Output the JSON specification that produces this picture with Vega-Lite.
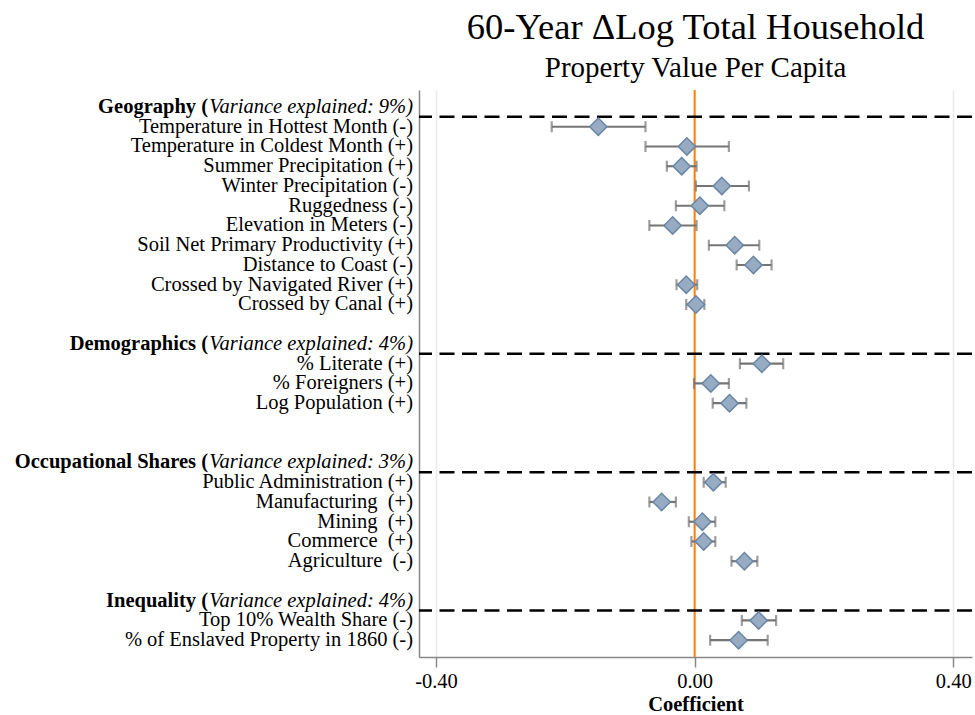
{
  "$schema": "https://vega.github.io/schema/vega-lite/v6.json",
  "width": 553,
  "height": 567,
  "autosize": {"type": "none"},
  "padding": {"left": 419, "top": 90, "right": 3, "bottom": 58},
  "config": {"font": "Liberation Serif", "view": {"stroke": null}},
  "title": {
    "text": "60-Year \u0394Log Total Household",
    "subtitle": "Property Value Per Capita",
    "font": "Liberation Serif",
    "fontSize": 36.5,
    "fontWeight": "normal",
    "color": "black",
    "subtitleFont": "Liberation Serif",
    "subtitleFontSize": 29,
    "subtitleColor": "black",
    "anchor": "middle",
    "offset": 6,
    "subtitlePadding": 8
  },
  "datasets": {
    "rows": [
      {"label": "Temperature in Hottest Month (-)", "pos": 0, "coef": -0.149, "lo": -0.221, "hi": -0.076},
      {"label": "Temperature in Coldest Month (+)", "pos": 1, "coef": -0.012, "lo": -0.076, "hi": 0.053},
      {"label": "Summer Precipitation (+)", "pos": 2, "coef": -0.020, "lo": -0.043, "hi": 0.003},
      {"label": "Winter Precipitation (-)", "pos": 3, "coef": 0.042, "lo": 0.002, "hi": 0.084},
      {"label": "Ruggedness (-)", "pos": 4, "coef": 0.008, "lo": -0.029, "hi": 0.046},
      {"label": "Elevation in Meters (-)", "pos": 5, "coef": -0.034, "lo": -0.070, "hi": 0.003},
      {"label": "Soil Net Primary Productivity (+)", "pos": 6, "coef": 0.062, "lo": 0.022, "hi": 0.100},
      {"label": "Distance to Coast (-)", "pos": 7, "coef": 0.091, "lo": 0.065, "hi": 0.119},
      {"label": "Crossed by Navigated River (+)", "pos": 8, "coef": -0.013, "lo": -0.028, "hi": 0.004},
      {"label": "Crossed by Canal (+)", "pos": 9, "coef": 0.002, "lo": -0.013, "hi": 0.015},
      {"label": "% Literate (+)", "pos": 12, "coef": 0.104, "lo": 0.070, "hi": 0.137},
      {"label": "% Foreigners (+)", "pos": 13, "coef": 0.025, "lo": -0.001, "hi": 0.053},
      {"label": "Log Population (+)", "pos": 14, "coef": 0.054, "lo": 0.028, "hi": 0.080},
      {"label": "Public Administration (+)", "pos": 18, "coef": 0.029, "lo": 0.014, "hi": 0.048},
      {"label": "Manufacturing\u00a0 (+)", "pos": 19, "coef": -0.051, "lo": -0.070, "hi": -0.029},
      {"label": "Mining\u00a0 (+)", "pos": 20, "coef": 0.012, "lo": -0.009, "hi": 0.032},
      {"label": "Commerce\u00a0 (+)", "pos": 21, "coef": 0.014, "lo": -0.005, "hi": 0.032},
      {"label": "Agriculture\u00a0 (-)", "pos": 22, "coef": 0.077, "lo": 0.057, "hi": 0.097},
      {"label": "Top 10% Wealth Share (-)", "pos": 25, "coef": 0.099, "lo": 0.073, "hi": 0.126},
      {"label": "% of Enslaved Property in 1860 (-)", "pos": 26, "coef": 0.068, "lo": 0.024, "hi": 0.113}
    ],
    "groups": [
      {"bold": "Geography (", "italic": "Variance explained: 9%)", "pos": -1, "line": -0.5},
      {"bold": "Demographics (", "italic": "Variance explained: 4%)", "pos": 11, "line": 11.5},
      {"bold": "Occupational Shares (", "italic": "Variance explained: 3%)", "pos": 17, "line": 17.5},
      {"bold": "Inequality (", "italic": "Variance explained: 4%)", "pos": 24, "line": 24.5}
    ]
  },
  "layer": [
    {
      "data": {"values": [{"zero": 0}]},
      "mark": {"type": "rule", "color": "#ff7f0e", "strokeWidth": 2},
      "encoding": {
        "x": {
          "field": "zero",
          "type": "quantitative",
          "scale": {"domain": [-0.4263, 0.429], "nice": false, "zero": false},
          "axis": {
            "title": "Coefficient",
            "titleFont": "Liberation Serif",
            "titleFontSize": 20.5,
            "titleFontWeight": "bold",
            "titleColor": "black",
            "titlePadding": 3,
            "values": [-0.4, 0, 0.4],
            "labelExpr": "replace(format(datum.value, '.2f'), '\u2212', '-')",
            "labelOverlap": false,
            "labelFlush": false,
            "labelFont": "Liberation Serif",
            "labelFontSize": 20.5,
            "labelColor": "black",
            "labelPadding": 4,
            "tickSize": 10,
            "tickColor": "#888888",
            "tickWidth": 1.5,
            "domainColor": "#888888",
            "domainWidth": 1.5,
            "grid": true,
            "gridColor": "#ebebeb",
            "gridWidth": 1.5
          }
        }
      }
    },
    {
      "data": {"name": "groups"},
      "mark": {"type": "rule", "color": "black", "strokeWidth": 2.5, "strokeDash": [15, 7.5]},
      "encoding": {
        "y": {
          "field": "line",
          "type": "quantitative",
          "scale": {"domain": [-1.86, 26.85], "reverse": true, "nice": false, "zero": false},
          "axis": {
            "title": null,
            "labels": false,
            "ticks": false,
            "grid": false,
            "domain": true,
            "domainColor": "#888888",
            "domainWidth": 1.5
          }
        }
      }
    },
    {
      "data": {"name": "rows"},
      "mark": {"type": "rule", "color": "#757575", "strokeWidth": 2.2},
      "encoding": {
        "x": {"field": "lo", "type": "quantitative"},
        "x2": {"field": "hi"},
        "y": {"field": "pos", "type": "quantitative"}
      }
    },
    {
      "data": {"name": "rows"},
      "transform": [{"fold": ["lo", "hi"], "as": ["end", "bound"]}],
      "mark": {"type": "tick", "orient": "vertical", "color": "#757575", "size": 11, "thickness": 2.2},
      "encoding": {
        "x": {"field": "bound", "type": "quantitative"},
        "y": {"field": "pos", "type": "quantitative"}
      }
    },
    {
      "data": {"name": "rows"},
      "mark": {"type": "point", "shape": "diamond", "filled": true, "size": 300, "fill": "#97abc3", "stroke": "#6a86a5", "strokeWidth": 1.5, "opacity": 1},
      "encoding": {
        "x": {"field": "coef", "type": "quantitative"},
        "y": {"field": "pos", "type": "quantitative"}
      }
    },
    {
      "data": {"name": "rows"},
      "mark": {"type": "text", "align": "right", "baseline": "middle", "dx": -6, "fontSize": 20.5, "font": "Liberation Serif", "color": "black"},
      "encoding": {
        "x": {"datum": -0.4263, "type": "quantitative"},
        "y": {"field": "pos", "type": "quantitative"},
        "text": {"field": "label"}
      }
    },
    {
      "data": {"name": "groups"},
      "mark": {"type": "text", "align": "right", "baseline": "middle", "dx": -6, "fontSize": 20.5, "font": "Liberation Serif", "fontStyle": "italic", "color": "black"},
      "encoding": {
        "x": {"datum": -0.4263, "type": "quantitative"},
        "y": {"field": "pos", "type": "quantitative"},
        "text": {"field": "italic"}
      }
    },
    {
      "data": {"name": "groups"},
      "mark": {"type": "text", "align": "right", "baseline": "middle", "dx": -211, "fontSize": 20.5, "font": "Liberation Serif", "fontWeight": "bold", "color": "black"},
      "encoding": {
        "x": {"datum": -0.4263, "type": "quantitative"},
        "y": {"field": "pos", "type": "quantitative"},
        "text": {"field": "bold"}
      }
    }
  ]
}
